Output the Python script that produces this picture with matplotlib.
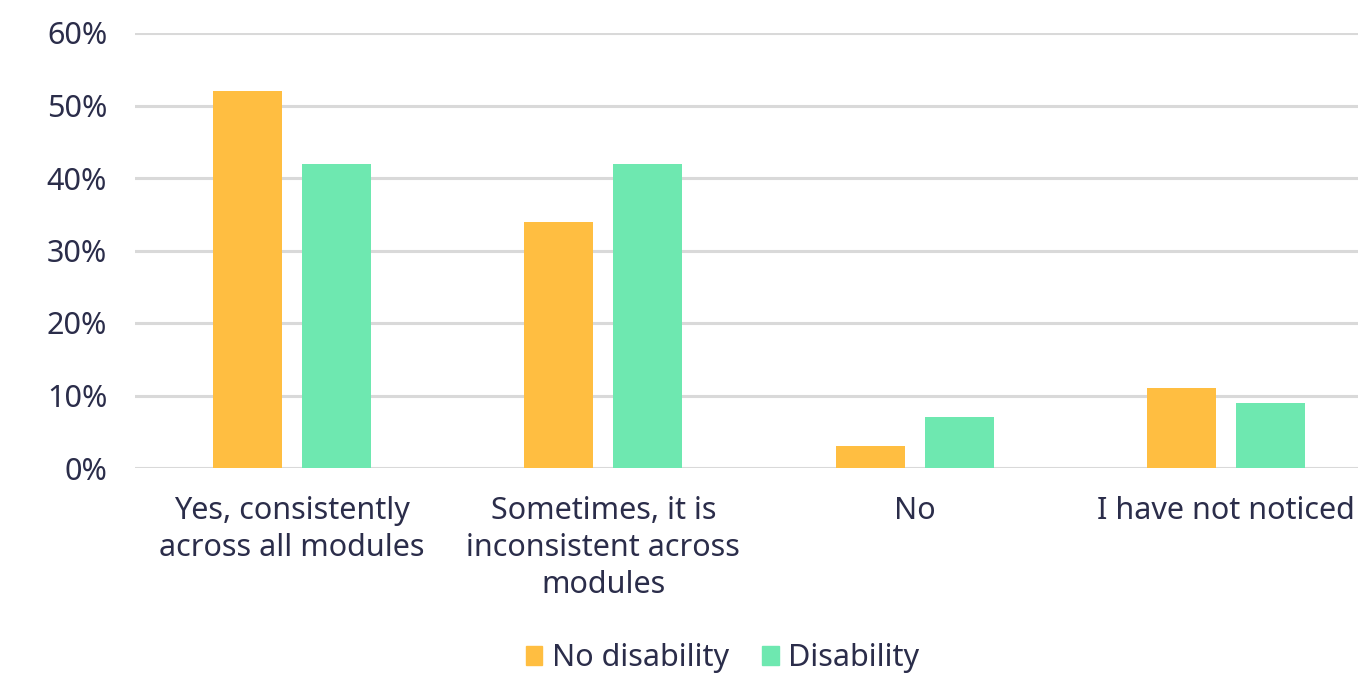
import matplotlib
matplotlib.use("Agg")
import matplotlib.pyplot as plt
import numpy as np
from matplotlib.patches import Patch

categories = ["Yes, consistently\nacross all modules",
              "Sometimes, it is\ninconsistent across\nmodules",
              "No",
              "I have not noticed"]
no_disability = [52, 34, 3, 11]
disability = [42, 42, 7, 9]
series_names = ["No disability", "Disability"]
yticks = [0, 10, 20, 30, 40, 50, 60]
ytick_labels = [f"{v}%" for v in yticks]

orange = "#FFBE41"
green = "#6EE8B0"
text_col = "#2B2D4A"
grid_col = "#D9D9D9"

plt.rcParams['font.family'] = ['Noto Sans', 'DejaVu Sans']

fig = plt.figure(figsize=(13.58, 6.75), dpi=100)
ax = fig.add_axes([135/1358, (675-468)/675, 1 - 135/1358, 435/675])

x = np.arange(len(categories))
w = 0.222
off = 0.143
ax.bar(x - off, no_disability, w, color=orange, zorder=3)
ax.bar(x + off, disability, w, color=green, zorder=3)

ax.set_ylim(0, 60)
ax.set_xlim(-0.505, 3.425)
ax.set_yticks(yticks)
ax.set_yticklabels(ytick_labels)
ax.set_xticks(x)
ax.set_xticklabels(categories, linespacing=1.3)
ax.tick_params(axis='both', length=0, labelsize=22, colors=text_col)
ax.tick_params(axis='y', pad=20)
ax.tick_params(axis='x', pad=20)
for s in ax.spines.values():
    s.set_visible(False)
ax.grid(axis='y', color=grid_col, linewidth=2.2, zorder=0)
ax.set_axisbelow(True)

handles = [Patch(color=orange), Patch(color=green)]
fig.legend(handles, series_names, loc='center', bbox_to_anchor=(0.532, 0.025),
           ncol=2, frameon=False, fontsize=22, handlelength=0.55, handleheight=0.55,
           handletextpad=0.3, columnspacing=1.1, labelcolor=text_col)

fig.savefig("out.png", dpi=100)
